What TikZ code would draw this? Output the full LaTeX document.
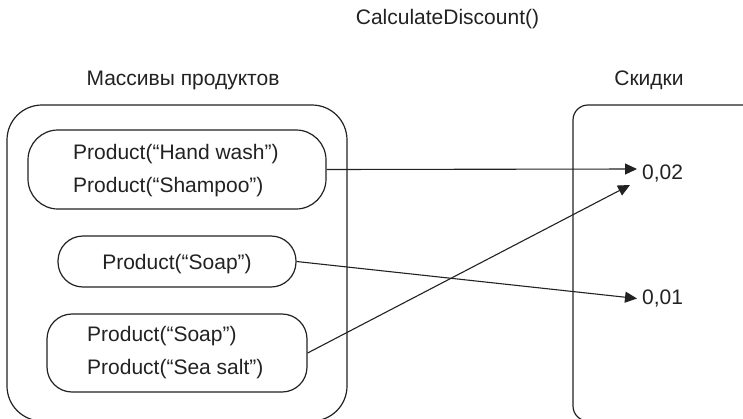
\documentclass[tikz,border=0pt]{standalone}
\usepackage{fontspec}
\setmainfont{Liberation Sans}
\usetikzlibrary{arrows.meta}
\definecolor{ink}{HTML}{222222}
\begin{document}
\begin{tikzpicture}[x=1pt,y=-1pt,
  every node/.style={text=ink,font=\fontsize{21}{33}\selectfont},
  container/.style={draw=ink,line width=1.2pt,inner sep=0pt},
  prodbox/.style={draw=ink,line width=1.2pt,inner sep=0pt},
  txt/.style={inner sep=0pt,align=left,anchor=west},
  arr/.style={draw=ink,line width=1.1pt,-{Triangle[length=12pt,width=11pt]}}]
\clip (0,0) rectangle (743,418);
\fill[white] (0,0) rectangle (743,418);
% headings
\node (calc) at (447.5,19) {CalculateDiscount()};
\node (lblL) at (183,80) {Массивы продуктов};
\node (lblR) at (649,80) {Скидки};
% containers
\node[container,rounded corners=35pt,minimum width=340pt,minimum height=316pt] (arrays) at (177,263) {};
\node[container,rounded corners=15pt,minimum width=200pt,minimum height=316pt] (discounts) at (673,263) {};
% product boxes
\node[prodbox,rounded corners=30pt,minimum width=298pt,minimum height=79pt] (b1) at (177,169.5) {};
\node[prodbox,rounded corners=25pt,minimum width=238pt,minimum height=51pt] (b2) at (177,261.5) {};
\node[prodbox,rounded corners=25pt,minimum width=260pt,minimum height=78pt] (b3) at (177,353) {};
\node[txt] (t1) at (73,170.5) {Product(“Hand wash”)\\Product(“Shampoo”)};
\node[inner sep=0pt] (t2) at (177,264) {Product(“Soap”)};
\node[txt] (t3) at (87,352.5) {Product(“Soap”)\\Product(“Sea salt”)};
% values
\node[anchor=west,inner xsep=5pt,inner ysep=0pt] (v02) at (637,174) {0,02};
\node[anchor=west,inner xsep=5pt,inner ysep=0pt] (v01) at (637,298.5) {0,01};
\coordinate (tipA) at ([yshift=5pt]v02.west);
\coordinate (tipC) at ([shift={(-7pt,-11pt)}]v02.west);
% arrows
\draw[arr] (b1.east) -- (tipA);
\draw[arr] (b2.east) -- (v01.west);
\draw[arr] (b3.east) -- (tipC);
\end{tikzpicture}
\end{document}
